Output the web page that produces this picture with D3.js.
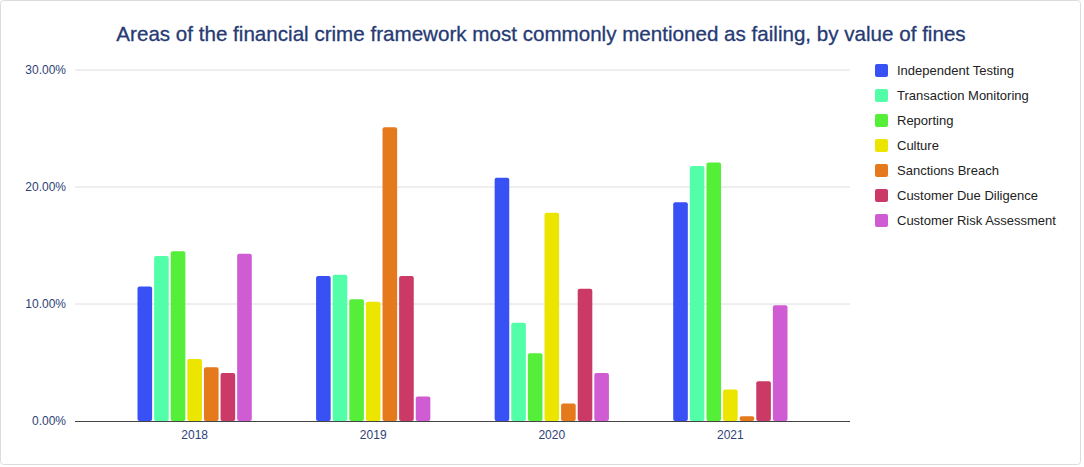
<!DOCTYPE html>
<html><head><meta charset="utf-8">
<script src="https://cdn.jsdelivr.net/npm/d3@7"></script>
<style>body{margin:0;background:#fff;font-family:"Liberation Sans",Arial,sans-serif;}</style>
</head><body><svg id="c" width="1084" height="467"></svg>
<script>
const years = ["2018","2019","2020","2021"];
const seriesNames = ["Independent Testing","Transaction Monitoring","Reporting","Culture","Sanctions Breach","Customer Due Diligence","Customer Risk Assessment"];
const seriesColors = ["#3851f4","#52ffa8","#55ee38","#ece500","#e47a1b","#cb3966","#d05cd4"];
const independentTesting = [11.5, 12.4, 20.8, 18.7];
const transactionMonitoring = [14.1, 12.5, 8.4, 21.8];
const reporting = [14.5, 10.4, 5.8, 22.1];
const culture = [5.3, 10.2, 17.8, 2.7];
const sanctionsBreach = [4.6, 25.1, 1.5, 0.4];
const customerDueDiligence = [4.1, 12.4, 11.3, 3.4];
const customerRiskAssessment = [14.3, 2.1, 4.1, 9.9];
const yTicks = [0, 10, 20, 30];
const title = "Areas of the financial crime framework most commonly mentioned as failing, by value of fines";

const seriesValues = [independentTesting, transactionMonitoring, reporting, culture, sanctionsBreach, customerDueDiligence, customerRiskAssessment];

const svg = d3.select("#c");
svg.append("rect").attr("x",0.5).attr("y",0.5).attr("width",1080).attr("height",464).attr("rx",3)
  .attr("fill","#fff").attr("stroke","#dcdcdc");

const L = 75, R = 850, T = 70, B = 421;
const y = d3.scaleLinear().domain([0,30]).range([B,T]);
const x0 = d3.scaleBand().domain(years).range([L,R]).paddingInner(0.36).paddingOuter(0.35);
const x1 = d3.scaleBand().domain(seriesNames).range([0,x0.bandwidth()]).paddingInner(0.12);

svg.append("text").attr("x",541).attr("y",41).attr("text-anchor","middle")
  .attr("font-size",20.6).attr("fill","#263a73").attr("stroke","#263a73").attr("stroke-width",0.3).text(title);

// grid
svg.append("g").selectAll("line").data(yTicks.filter(d=>d>0)).join("line")
  .attr("x1",L).attr("x2",R).attr("y1",d=>y(d)).attr("y2",d=>y(d))
  .attr("stroke","#dedede").attr("stroke-width",1);

const yAxis = svg.append("g").attr("transform",`translate(${L},0)`)
  .call(d3.axisLeft(y).tickValues(yTicks).tickSize(0).tickPadding(9).tickFormat(d=>d.toFixed(2)+"%"));
yAxis.select(".domain").remove();
yAxis.selectAll("text").attr("font-size",12).attr("fill","#2f3f78").attr("font-family","Liberation Sans, Arial, sans-serif");

// bars
const groups = svg.append("g").selectAll("g").data(years).join("g")
  .attr("transform",d=>`translate(${x0(d)},0)`);
groups.selectAll("rect").data((yr,i)=>seriesNames.map((s,j)=>({s, j, v: seriesValues[j][i]}))).join("rect")
  .attr("x",d=>x1(d.s)).attr("width",x1.bandwidth())
  .attr("y",d=>y(d.v)).attr("height",d=>B-y(d.v)).attr("rx",2)
  .attr("fill",d=>seriesColors[d.j]);

// baseline
svg.append("line").attr("x1",L).attr("x2",R).attr("y1",B+0.5).attr("y2",B+0.5).attr("stroke","#444");

const xAxis = svg.append("g").attr("transform",`translate(0,${B})`)
  .call(d3.axisBottom(x0).tickSize(0).tickPadding(9));
xAxis.select(".domain").remove();
xAxis.selectAll("text").attr("font-size",12).attr("fill","#2f3f78").attr("font-family","Liberation Sans, Arial, sans-serif");

// legend
const leg = svg.append("g").selectAll("g").data(seriesNames).join("g")
  .attr("transform",(d,i)=>`translate(875,${64+i*25})`);
leg.append("rect").attr("width",13).attr("height",13).attr("rx",2).attr("fill",(d,i)=>seriesColors[i]);
leg.append("text").attr("x",22).attr("y",11).attr("font-size",13).attr("fill","#222").text(d=>d);
</script></body></html>
